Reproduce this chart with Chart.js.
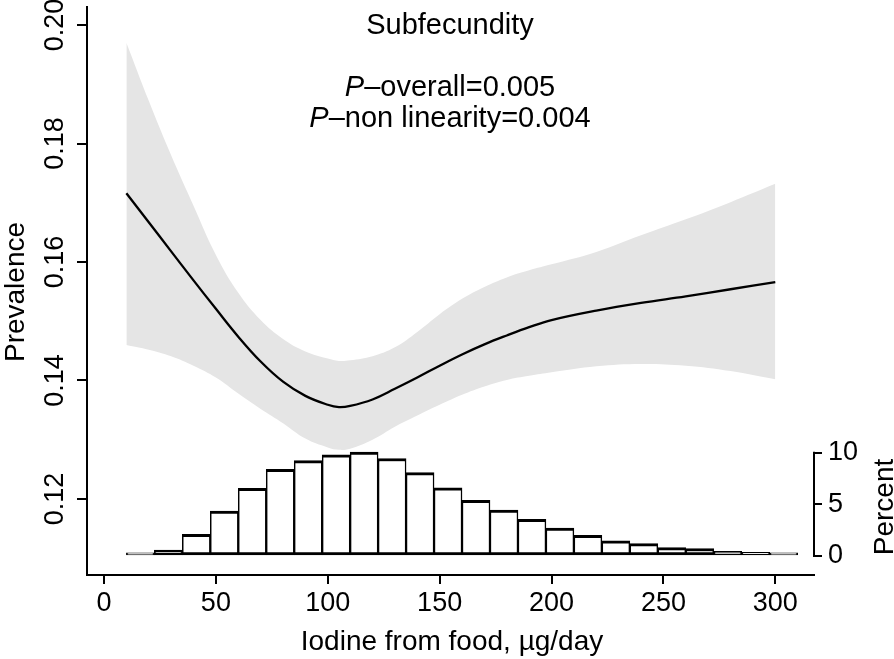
<!DOCTYPE html>
<html>
<head>
<meta charset="utf-8">
<script src="https://cdn.jsdelivr.net/npm/chart.js@4/dist/chart.umd.min.js"></script>
<style>
    body { margin: 0; background: #fff; }
    #wrap { width: 894px; height: 659px; position: relative; }
</style>
</head>
<body>
<div id="wrap"><canvas id="splineChart"></canvas></div>
<script>
// spline fit (x = iodine from food, µg/day)
const curveX = [10, 20, 30, 40, 50, 60, 70, 80, 90, 100, 105, 110, 120, 130, 140, 150, 160, 170, 180, 190, 200, 220, 240, 260, 280, 300];
const fitY = [0.1716, 0.1667, 0.1618, 0.1569, 0.1521, 0.1474, 0.1432, 0.1398, 0.1374, 0.1359, 0.1355, 0.1357, 0.1368, 0.1386, 0.1405, 0.1425, 0.1444, 0.1461, 0.1476, 0.1490, 0.1502, 0.1518, 0.1531, 0.1542, 0.1554, 0.1566];
const upperY = [0.1970, 0.1872, 0.1780, 0.1695, 0.1612, 0.1548, 0.1502, 0.1470, 0.1449, 0.1437, 0.1433, 0.1434, 0.1441, 0.1456, 0.1482, 0.1512, 0.1538, 0.1558, 0.1574, 0.1586, 0.1596, 0.1617, 0.1645, 0.1672, 0.1701, 0.1732];
const lowerY = [0.1460, 0.1452, 0.1441, 0.1425, 0.1405, 0.1378, 0.1352, 0.1328, 0.1302, 0.1287, 0.1283, 0.1285, 0.1300, 0.1322, 0.1341, 0.1359, 0.1376, 0.1390, 0.1401, 0.1408, 0.1414, 0.1424, 0.1428, 0.1425, 0.1416, 0.1402];

// histogram, bins of 12.5 from 10 to 310
const binStart = 10;
const binWidth = 12.5;
const binPercent = [0.3, 0.58, 2.1, 4.35, 6.55, 8.4, 9.24, 9.8, 10.05, 9.44, 8.07, 6.6, 5.39, 4.45, 3.55, 2.71, 2.0, 1.48, 1.19, 0.81, 0.71, 0.45, 0.35, 0.3];

const prevTicks = [0.12, 0.14, 0.16, 0.18, 0.20];
const xTicks = [0, 50, 100, 150, 200, 250, 300];
const pctTicks = [0, 5, 10];

const FONT = 'Liberation Sans, Arial, Helvetica, sans-serif';
Chart.defaults.font.family = FONT;
Chart.defaults.color = '#000';

function pts(xs, ys) {
    return xs.map((x, i) => ({ x: x, y: ys[i] }));
}

const bars = binPercent.map((p, i) => ({ x: binStart + binWidth * (i + 0.5), y: p }));

function fixBox(w, h) {
    return function (scale) {
        if (w !== null) scale.width = w;
        if (h !== null) scale.height = h;
        scale.paddingLeft = 0;
        scale.paddingRight = 0;
        scale.paddingTop = 0;
        scale.paddingBottom = 0;
    };
}

// texts, rotated tick labels and the short percent axis line
const decorations = {
    id: 'decorations',
    afterDraw(chart) {
        const ctx = chart.ctx;
        const y = chart.scales.y;
        const y2 = chart.scales.y2;
        const area = chart.chartArea;
        ctx.save();
        ctx.fillStyle = '#000';
        ctx.strokeStyle = '#000';

        // percent axis line (0 to 10 only)
        ctx.lineWidth = 2;
        ctx.beginPath();
        ctx.moveTo(area.right, y2.getPixelForValue(0) + 1);
        ctx.lineTo(area.right, y2.getPixelForValue(10) - 1);
        ctx.stroke();

        // y tick labels, rotated
        ctx.font = '27px ' + FONT;
        ctx.textAlign = 'center';
        ctx.textBaseline = 'alphabetic';
        prevTicks.forEach(v => {
            ctx.save();
            ctx.translate(63, y.getPixelForValue(v));
            ctx.rotate(-Math.PI / 2);
            ctx.fillText(v.toFixed(2), 0, 0);
            ctx.restore();
        });

        // axis titles
        ctx.font = '28px ' + FONT;
        ctx.save();
        ctx.translate(24, 292);
        ctx.rotate(-Math.PI / 2);
        ctx.fillText('Prevalence', 0, 0);
        ctx.restore();

        ctx.save();
        ctx.translate(893, 507);
        ctx.rotate(-Math.PI / 2);
        ctx.fillText('Percent', 0, 0);
        ctx.restore();

        ctx.fillText('Iodine from food, µg/day', 452, 650);

        // heading
        ctx.font = '29px ' + FONT;
        ctx.fillText('Subfecundity', 450, 34);
        drawPLine(ctx, '–overall=0.005', 450, 96);
        drawPLine(ctx, '–non linearity=0.004', 450, 127);
        ctx.restore();
    }
};

function drawPLine(ctx, rest, cx, baseY) {
    const italic = 'italic 29px ' + FONT;
    const normal = '29px ' + FONT;
    ctx.font = italic;
    const wP = ctx.measureText('P').width;
    ctx.font = normal;
    const wR = ctx.measureText(rest).width;
    const x0 = cx - (wP + wR) / 2;
    ctx.textAlign = 'left';
    ctx.font = italic;
    ctx.fillText('P', x0, baseY);
    ctx.font = normal;
    ctx.fillText(rest, x0 + wP, baseY);
    ctx.textAlign = 'center';
}

new Chart(document.getElementById('splineChart'), {
    data: {
        datasets: [
            {
                type: 'line',
                label: 'upper',
                data: pts(curveX, upperY),
                borderWidth: 0,
                pointRadius: 0,
                backgroundColor: 'rgb(229, 229, 229)',
                fill: '+1',
                tension: 0.4,
                yAxisID: 'y',
                order: 4
            },
            {
                type: 'line',
                label: 'lower',
                data: pts(curveX, lowerY),
                borderWidth: 0,
                pointRadius: 0,
                fill: false,
                tension: 0.4,
                yAxisID: 'y',
                order: 3
            },
            {
                type: 'bar',
                label: 'Percent',
                data: bars,
                backgroundColor: '#fff',
                borderColor: '#000',
                borderWidth: { top: 3, bottom: 3, left: 1.5, right: 1.5 },
                borderSkipped: false,
                barPercentage: 1,
                categoryPercentage: 1,
                yAxisID: 'y2',
                order: 2
            },
            {
                type: 'line',
                label: 'Prevalence',
                data: pts(curveX, fitY),
                borderColor: '#000',
                borderWidth: 2.3,
                pointRadius: 0,
                fill: false,
                tension: 0.4,
                yAxisID: 'y',
                order: 1
            }
        ]
    },
    options: {
        responsive: true,
        maintainAspectRatio: false,
        animation: false,
        layout: { padding: { top: 7, left: 0, right: 0, bottom: 0 } },
        plugins: {
            legend: { display: false },
            tooltip: { enabled: false }
        },
        scales: {
            x: {
                type: 'linear',
                offset: false,
                min: -7.6,
                max: 317.3,
                afterBuildTicks: s => { s.ticks = xTicks.map(v => ({ value: v })); },
                afterFit: fixBox(null, 84),
                border: { display: true, color: '#000', width: 2 },
                grid: { offset: false, drawOnChartArea: false, drawTicks: true, tickLength: 9, color: '#000', lineWidth: 2 },
                ticks: { font: { size: 27 }, padding: 3, maxRotation: 0 }
            },
            y: {
                type: 'linear',
                position: 'left',
                min: 0.10717,
                max: 0.20304,
                afterBuildTicks: s => { s.ticks = prevTicks.map(v => ({ value: v })); },
                afterFit: fixBox(87, null),
                border: { display: true, color: '#000', width: 2 },
                grid: { drawOnChartArea: false, drawTicks: true, tickLength: 10, color: '#000', lineWidth: 2 },
                ticks: { display: false }
            },
            y2: {
                type: 'linear',
                position: 'right',
                min: -1.84,
                max: 53.15,
                afterBuildTicks: s => { s.ticks = pctTicks.map(v => ({ value: v })); },
                afterFit: fixBox(80, null),
                border: { display: false },
                grid: { drawOnChartArea: false, drawTicks: true, tickLength: 8, color: '#000', lineWidth: 2 },
                ticks: { font: { size: 27 }, padding: 6 }
            }
        }
    },
    plugins: [decorations]
});
</script>
</body>
</html>
